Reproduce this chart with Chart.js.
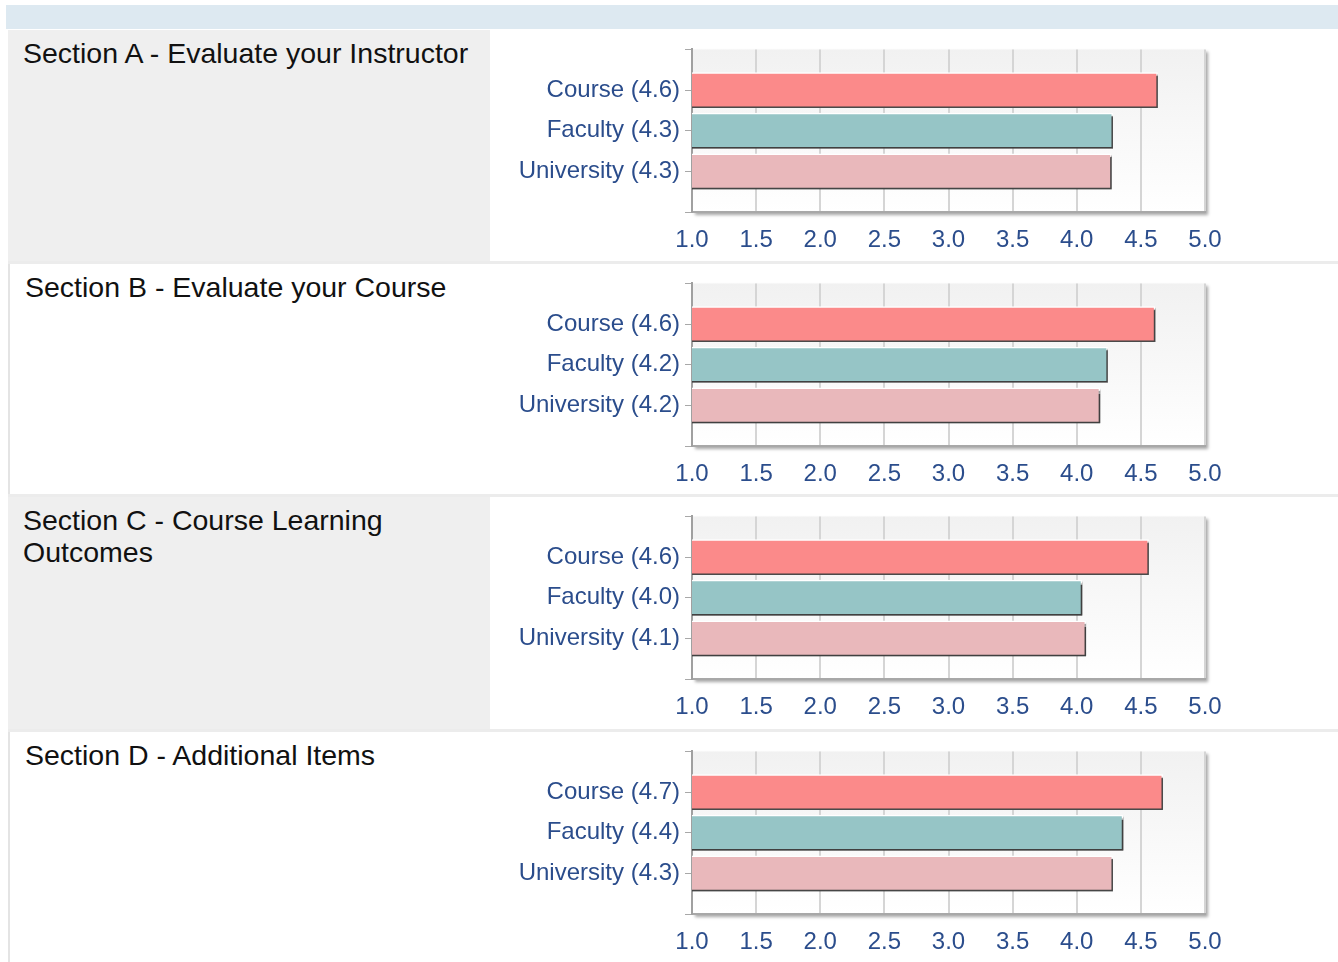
<!DOCTYPE html>
<html>
<head>
<meta charset="utf-8">
<script src="https://cdn.jsdelivr.net/npm/chart.js@4"></script>
<style>
  body { margin: 0; background: #fff; width: 1338px; height: 962px; overflow: hidden; position: relative; font-family: "Liberation Sans", Arial, sans-serif; }
  .band { position: absolute; left: 6px; top: 5px; width: 1332px; height: 24px; background: #dde9f1; }
  .row { position: absolute; left: 8px; width: 1330px; }
  .sep { position: absolute; left: 8px; width: 1330px; height: 3px; background: #ececec; }
  .title { position: absolute; left: 0; top: 0; width: 482px; height: 100%; box-sizing: border-box; padding: 7px 20px 0 15px; font-size: 28.5px; line-height: 32px; color: #111; }
  .gray .title { background: #efefef; }
  .white .title { border-left: 2px solid #e4e4e4; }
  canvas { position: absolute; left: 490px; }
</style>
</head>
<body>
<div class="band"></div>
<div id="rows"></div>
<script>
// section titles and rows
const sectionTitles = [
  'Section A - Evaluate your Instructor',
  'Section B - Evaluate your Course',
  'Section C - Course Learning Outcomes',
  'Section D - Additional Items'
];
const groups = ['Course', 'Faculty', 'University'];
// bar lengths, one array per section
const sectionA = [4.63, 4.28, 4.27];
const sectionB = [4.61, 4.24, 4.18];
const sectionC = [4.56, 4.04, 4.07];
const sectionD = [4.67, 4.36, 4.28];
const sections = [sectionA, sectionB, sectionC, sectionD];
const xTicks = [1.0, 1.5, 2.0, 2.5, 3.0, 3.5, 4.0, 4.5, 5.0];
const barColors = ['#fb8a8a', '#96c5c6', '#e9b8bb'];

const rowTops = [30, 264, 497, 732];
const rowHeights = [232, 230, 232, 230];

const plotBg = {
  id: 'plotBg',
  beforeDraw(chart) {
    const { ctx, chartArea: a } = chart;
    ctx.save();
    ctx.shadowColor = 'rgba(0,0,0,0.35)';
    ctx.shadowOffsetX = 3;
    ctx.shadowOffsetY = 3;
    ctx.shadowBlur = 3;
    ctx.fillStyle = '#fff';
    ctx.fillRect(a.left, a.top, a.width, a.height);
    ctx.restore();
    ctx.save();
    const g = ctx.createLinearGradient(0, a.top, 0, a.bottom);
    g.addColorStop(0, '#f1f1f1');
    g.addColorStop(1, '#ffffff');
    ctx.fillStyle = g;
    ctx.fillRect(a.left, a.top, a.width, a.height);
    ctx.restore();
  }
};

const barShadow = {
  id: 'barShadow',
  beforeDatasetsDraw(chart) {
    const ctx = chart.ctx;
    ctx.save();
    ctx.shadowColor = 'rgba(0,0,0,0.75)';
    ctx.shadowOffsetX = 2;
    ctx.shadowOffsetY = 2;
    ctx.shadowBlur = 1;
  },
  afterDatasetsDraw(chart) {
    chart.ctx.restore();
  }
};

const rowsEl = document.getElementById('rows');

sections.forEach((vals, i) => {
  const row = document.createElement('div');
  row.className = 'row ' + (i % 2 === 0 ? 'gray' : 'white');
  row.style.top = rowTops[i] + 'px';
  row.style.height = rowHeights[i] + 'px';
  row.innerHTML = '<div class="title">' + sectionTitles[i] + '</div>';
  document.body.appendChild(row);

  if (i > 0) {
    const sep = document.createElement('div');
    sep.className = 'sep';
    sep.style.top = (rowTops[i] - 3) + 'px';
    document.body.appendChild(sep);
  }

  const canvas = document.createElement('canvas');
  canvas.width = 760;
  canvas.height = 230;
  canvas.style.top = rowTops[i] + 'px';
  document.body.appendChild(canvas);

  const labels = [' '].concat(groups.map((g, k) => g + ' (' + vals[k].toFixed(1) + ')')).concat([' ']);
  const data = [null].concat(vals).concat([null]);
  const colors = ['#fff'].concat(barColors).concat(['#fff']);

  new Chart(canvas, {
    type: 'bar',
    data: {
      labels: labels,
      datasets: [{
        data: data,
        backgroundColor: colors,
        borderColor: '#ffffff',
        borderWidth: 1.5,
        borderSkipped: false,
        barThickness: 35
      }]
    },
    options: {
      indexAxis: 'y',
      responsive: false,
      animation: false,
      devicePixelRatio: 1,
      layout: { padding: { top: 17, right: 45, left: 0, bottom: 0 } },
      plugins: { legend: { display: false }, tooltip: { enabled: false } },
      scales: {
        x: {
          min: 1,
          max: 5,
          afterBuildTicks: (s) => { s.ticks = xTicks.map(v => ({ value: v })); },
          afterFit: (s) => { s.height = 48; },
          ticks: {
            callback: (v) => Number(v).toFixed(1),
            color: '#2b4d8c',
            font: { family: 'Liberation Sans', size: 24 },
            padding: 14,
            maxRotation: 0
          },
          grid: { color: '#d5d5d5', lineWidth: 2, drawTicks: false },
          border: { color: '#a8a8a8', width: 2 }
        },
        y: {
          offset: false,
          afterFit: (s) => { s.width = 202; },
          ticks: {
            color: '#2b4d8c',
            font: { family: 'Liberation Sans', size: 24 },
            padding: 5,
            autoSkip: false
          },
          grid: { offset: false, drawOnChartArea: false, tickLength: 7, color: '#a8a8a8', lineWidth: 1 },
          border: { color: '#a0a0a0', width: 2 }
        }
      }
    },
    plugins: [plotBg, barShadow]
  });
});
</script>
</body>
</html>
